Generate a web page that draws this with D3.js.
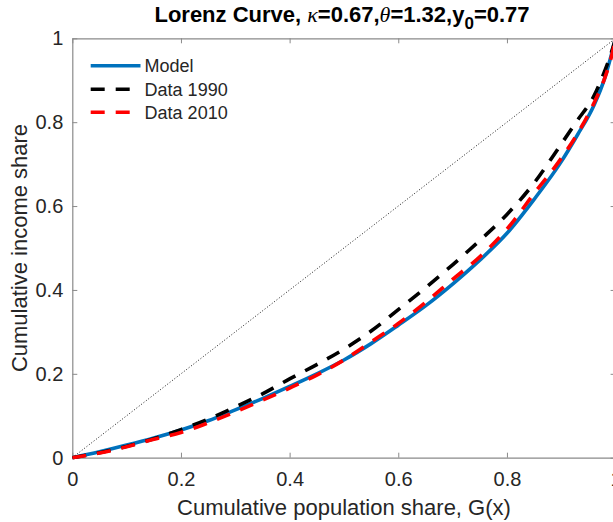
<!DOCTYPE html>
<html>
<head>
<meta charset="utf-8">
<script src="https://cdn.jsdelivr.net/npm/d3@7"></script>
<style>
  html, body { margin: 0; padding: 0; background: #fff; }
  svg { display: block; font-family: "Liberation Sans", Arial, Helvetica, sans-serif; }
</style>
</head>
<body>
<svg id="chart" width="613" height="522"></svg>
<script>
// ---- data ----
const popShare = [0, 0.05, 0.1, 0.15, 0.2, 0.25, 0.3, 0.35, 0.4, 0.45, 0.5, 0.55, 0.6, 0.65, 0.7, 0.75, 0.8, 0.85, 0.9, 0.93, 0.96, 0.98, 0.99, 1];
const modelShare = [0, 0.014, 0.030, 0.047, 0.066, 0.088, 0.114, 0.141, 0.170, 0.200, 0.233, 0.272, 0.316, 0.362, 0.414, 0.471, 0.535, 0.616, 0.706, 0.770, 0.840, 0.905, 0.950, 1];
const data1990Share = [0, 0.012, 0.027, 0.045, 0.067, 0.092, 0.121, 0.152, 0.188, 0.222, 0.259, 0.302, 0.353, 0.405, 0.460, 0.518, 0.580, 0.655, 0.748, 0.805, 0.862, 0.922, 0.957, 1];
const data2010Share = [0, 0.011, 0.026, 0.044, 0.060, 0.083, 0.109, 0.137, 0.166, 0.197, 0.233, 0.276, 0.320, 0.370, 0.425, 0.479, 0.545, 0.630, 0.714, 0.773, 0.845, 0.905, 0.945, 1];
const equality = [0, 1];
const tickValues = [0, 0.2, 0.4, 0.6, 0.8, 1];
const tickLabels = ["0", "0.2", "0.4", "0.6", "0.8", "1"];
const seriesNames = ["Model", "Data 1990", "Data 2010"];

// ---- layout ----
const svg = d3.select("#chart");
const pL = 72.3, pR = 615.6, pT = 38.3, pB = 457.7;
const x = d3.scaleLinear().domain([0, 1]).range([pL, pR]);
const y = d3.scaleLinear().domain([0, 1]).range([pB, pT]);
const axisColor = "#8a8a8a";
const textColor = "#262626";

svg.append("defs").append("clipPath").attr("id", "plotclip")
  .append("rect").attr("x", pL).attr("y", pT - 2).attr("width", pR - pL + 2).attr("height", pB - pT + 4);

// axes
const fmt = d => tickLabels[tickValues.indexOf(d)];
const tickLen = 5;
const gB = svg.append("g").attr("transform", `translate(0,${pB})`)
  .call(d3.axisBottom(x).tickValues(tickValues).tickFormat(fmt).tickSizeInner(-tickLen).tickSizeOuter(0).tickPadding(14));
const gT = svg.append("g").attr("transform", `translate(0,${pT})`)
  .call(d3.axisTop(x).tickValues(tickValues).tickFormat("").tickSizeInner(-tickLen).tickSizeOuter(0));
const gL = svg.append("g").attr("transform", `translate(${pL},0)`)
  .call(d3.axisLeft(y).tickValues(tickValues).tickFormat(fmt).tickSizeInner(-tickLen).tickSizeOuter(0).tickPadding(9));
const gR = svg.append("g").attr("transform", `translate(${pR},0)`)
  .call(d3.axisRight(y).tickValues(tickValues).tickFormat("").tickSizeInner(-tickLen).tickSizeOuter(0));
[gB, gT, gL, gR].forEach(g => {
  g.select(".domain").attr("stroke", axisColor).attr("stroke-width", 1.2);
  g.selectAll(".tick line").attr("stroke", axisColor).attr("stroke-width", 1);
  g.selectAll(".tick text").attr("fill", textColor).style("font-size", "20px")
    .style("font-family", "'Liberation Sans', Arial, sans-serif");
});

const plot = svg.append("g").attr("clip-path", "url(#plotclip)");

// equality diagonal
plot.append("path")
  .datum(equality)
  .attr("d", d3.line().x(d => x(d)).y(d => y(d)))
  .attr("fill", "none").attr("stroke", "#000").attr("stroke-width", 0.9)
  .attr("stroke-dasharray", "1,2");

const lineGen = d3.line().x(d => x(d[0])).y(d => y(d[1])).curve(d3.curveMonotoneX);
const seriesStyles = [
  { vals: modelShare, color: "#0072BD", dash: null },
  { vals: data1990Share, color: "#000000", dash: "14,11" },
  { vals: data2010Share, color: "#FF0000", dash: "14,11" }
];
seriesStyles.forEach(s => {
  plot.append("path")
    .datum(popShare.map((p, i) => [p, s.vals[i]]))
    .attr("d", lineGen)
    .attr("fill", "none")
    .attr("stroke", s.color)
    .attr("stroke-width", 3.6)
    .attr("stroke-dasharray", s.dash);
});

// legend
const legY = [65.7, 89.3, 112.3];
seriesStyles.forEach((s, i) => {
  svg.append("line")
    .attr("x1", 90.7).attr("x2", 140.5).attr("y1", legY[i]).attr("y2", legY[i])
    .attr("stroke", s.color).attr("stroke-width", 3.6).attr("stroke-dasharray", s.dash);
  svg.append("text")
    .attr("x", 144.6).attr("y", legY[i]).attr("dy", "0.35em")
    .attr("fill", textColor).style("font-size", "18px")
    .text(seriesNames[i]);
});

// axis labels
svg.append("text")
  .attr("x", (pL + pR) / 2).attr("y", 515)
  .attr("text-anchor", "middle").attr("fill", textColor).style("font-size", "22px")
  .text("Cumulative population share, G(x)");
svg.append("text")
  .attr("transform", `translate(27,${(pT + pB) / 2}) rotate(-90)`)
  .attr("text-anchor", "middle").attr("fill", textColor).style("font-size", "22px")
  .text("Cumulative income share");

// title
const title = svg.append("text")
  .attr("x", 342).attr("y", 22)
  .attr("text-anchor", "middle").attr("fill", "#000")
  .style("font-size", "22px").style("font-weight", "bold");
title.append("tspan").text("Lorenz Curve, ");
title.append("tspan").style("font-family", "'Liberation Serif', 'DejaVu Serif', serif").style("font-style", "italic").style("font-weight", "normal").text("κ");
title.append("tspan").text("=0.67,");
title.append("tspan").style("font-family", "'Liberation Serif', 'DejaVu Serif', serif").style("font-style", "italic").style("font-weight", "normal").text("θ");
title.append("tspan").text("=1.32,y");
title.append("tspan").attr("dy", 7).style("font-size", "17px").text("0");
title.append("tspan").attr("dy", -7).text("=0.77");
</script>
</body>
</html>
